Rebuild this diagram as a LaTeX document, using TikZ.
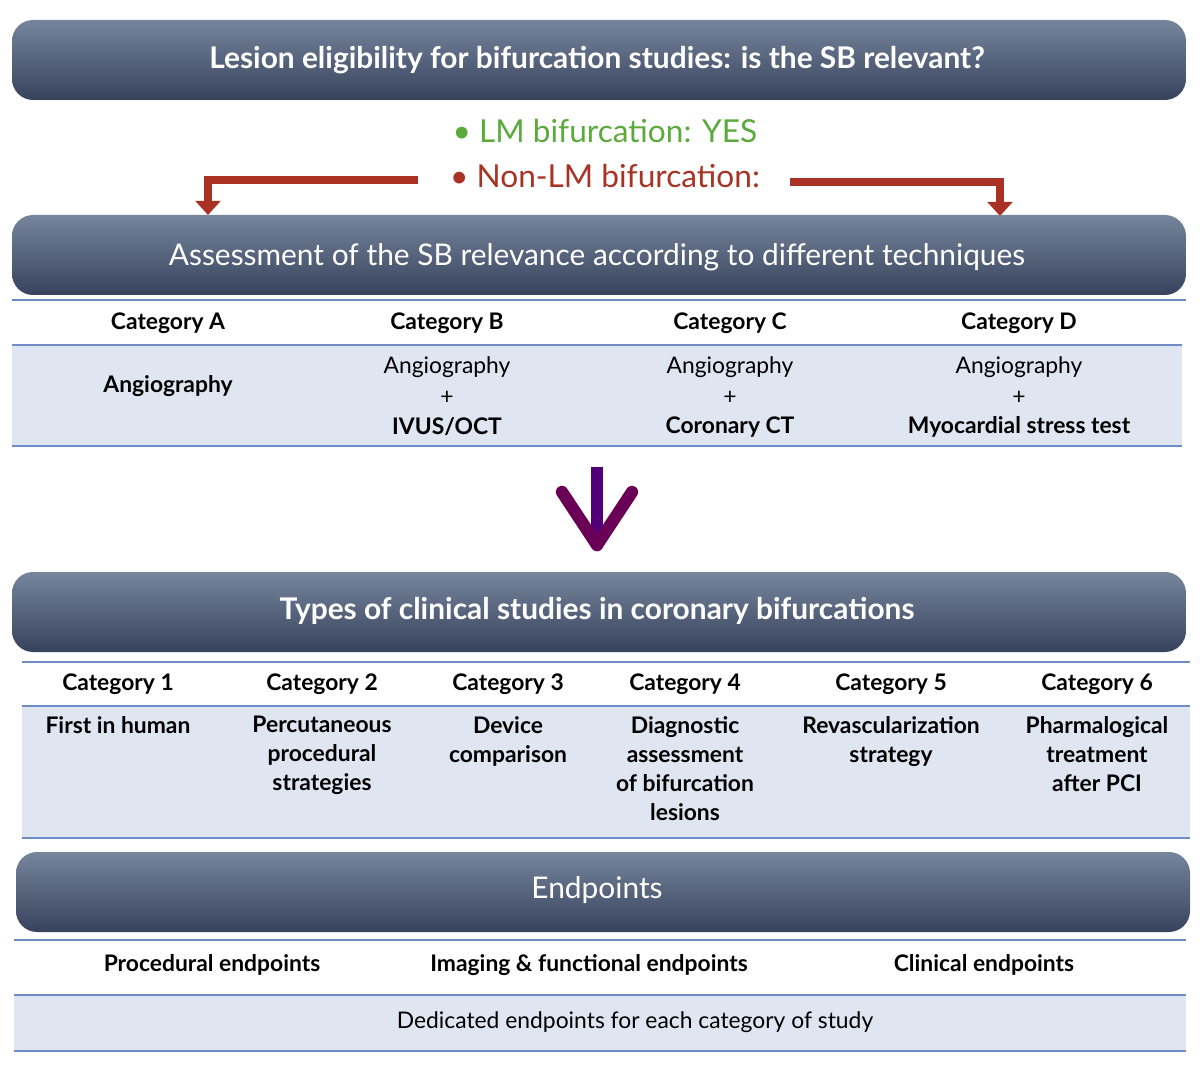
\documentclass[tikz,border=0pt]{standalone}
\usepackage{fontspec}
\setmainfont{Lato}
\usetikzlibrary{positioning,arrows.meta}
\definecolor{bantop}{HTML}{76849C}
\definecolor{banbot}{HTML}{37435C}
\definecolor{bandfill}{HTML}{DFE6F2}
\definecolor{bandline}{HTML}{6F8CC8}
\definecolor{lmgreen}{HTML}{5BAA3C}
\definecolor{lmred}{HTML}{A93224}
\tikzset{
  banner/.style={rounded corners=12pt,top color=bantop,bottom color=banbot,draw=none},
  bantext/.style={text=white,font=\fontsize{17}{20}\selectfont},
  cathead/.style={font=\bfseries\fontsize{13}{15}\selectfont},
  cattext/.style={font=\fontsize{13}{15.5}\selectfont,align=center},
  catbold/.style={font=\bfseries\fontsize{13}{15.5}\selectfont,align=center},
  sepline/.style={draw=bandline,line width=0.8pt},
  redarrow/.style={draw=lmred,line width=5pt,-{Triangle[length=8pt,width=14pt]}}
}
\begin{document}
\begin{tikzpicture}[x=0.02cm,y=-0.02cm]
\useasboundingbox (0,0) rectangle (1200,1067);
% banners
\shade[banner] (12,20) rectangle (1186,100);
\node[bantext,font=\bfseries\fontsize{17}{20}\selectfont] (lesion) at (597,60) {Lesion eligibility for bifurcation studies: is the SB relevant?};
\node[text=lmgreen,font=\fontsize{18}{20}\selectfont] (lmyes) at (605,131) {• LM bifurcation: YES};
\node[text=lmred,font=\fontsize{18}{20}\selectfont] (lmno) at (605,176) {• Non-LM bifurcation:};
\coordinate (la) at (418,180);
\coordinate (ra) at (790,182);
\draw[redarrow] (la) -| (208,215);
\draw[redarrow] (ra) -| (1000,216);
\shade[banner] (12,215) rectangle (1186,295);
\node[bantext] (assess) at (597,257) {Assessment of the SB relevance according to different techniques};
% techniques
\fill[bandfill] (12,345) rectangle (1182,446);
\draw[sepline] (12,300) -- (1186,300);
\draw[sepline] (12,345) -- (1182,345);
\draw[sepline] (12,446) -- (1182,446);
\node[cathead] (ca) at (168,323) {Category A};
\node[cathead] (cb) at (447,323) {Category B};
\node[cathead] (cc) at (730,323) {Category C};
\node[cathead] (cd) at (1019,323) {Category D};
\node[catbold] (ta) at (168,386) {Angiography};
\foreach \x/\nm/\bt in {447/tb/{IVUS/OCT},730/tc/{Coronary CT},1019/td/{Myocardial stress test}}{
  \node[cattext] (\nm1) at (\x,367) {Angiography};
  \node[cattext] (\nm2) at (\x,398) {+};
  \node[catbold] (\nm3) at (\x,427) {\bt};
}
% down arrow
\draw[line width=7pt,draw=blue!60!red!80!black] (597,467) -- (597,546);
\draw[line width=7pt,draw=red!55!blue!75!black,line cap=round] (562,492) -- (597,545);
\draw[line width=7pt,draw=red!55!blue!75!black,line cap=round] (632,492) -- (597,545);
\shade[banner] (12,572) rectangle (1186,652);
\node[bantext,font=\bfseries\fontsize{17}{20}\selectfont] (types) at (597,611) {Types of clinical studies in coronary bifurcations};
% study categories
\fill[bandfill] (22,706) rectangle (1190,838);
\draw[sepline] (22,662) -- (1190,662);
\draw[sepline] (22,706) -- (1190,706);
\draw[sepline] (22,838) -- (1190,838);
\foreach \x/\n/\txt in {118/1/{First in human},322/2/{Percutaneous\\procedural\\strategies},508/3/{Device\\comparison},685/4/{Diagnostic\\assessment\\of bifurcation\\lesions},891/5/{Revascularization\\strategy},1097/6/{Pharmalogical\\treatment\\after PCI}}{
  \node[cathead] (k\n) at (\x,684) {Category \n};
  \node[catbold,anchor=north,font=\bfseries\fontsize{13}{16.5}\selectfont] (s\n) at (\x,710) {\txt};
}
\shade[banner] (16,852) rectangle (1190,932);
\node[bantext] (endp) at (597,890) {Endpoints};
% endpoints
\fill[bandfill] (14,995) rectangle (1186,1051);
\draw[sepline] (14,940) -- (1186,940);
\draw[sepline] (14,995) -- (1186,995);
\draw[sepline] (14,1051) -- (1186,1051);
\node[cathead] (pe) at (212,965) {Procedural endpoints};
\node[cathead] (ie) at (589,965) {Imaging \& functional endpoints};
\node[cathead] (ce) at (984,965) {Clinical endpoints};
\node[cattext] (de) at (635,1022) {Dedicated endpoints for each category of study};
\end{tikzpicture}
\end{document}
